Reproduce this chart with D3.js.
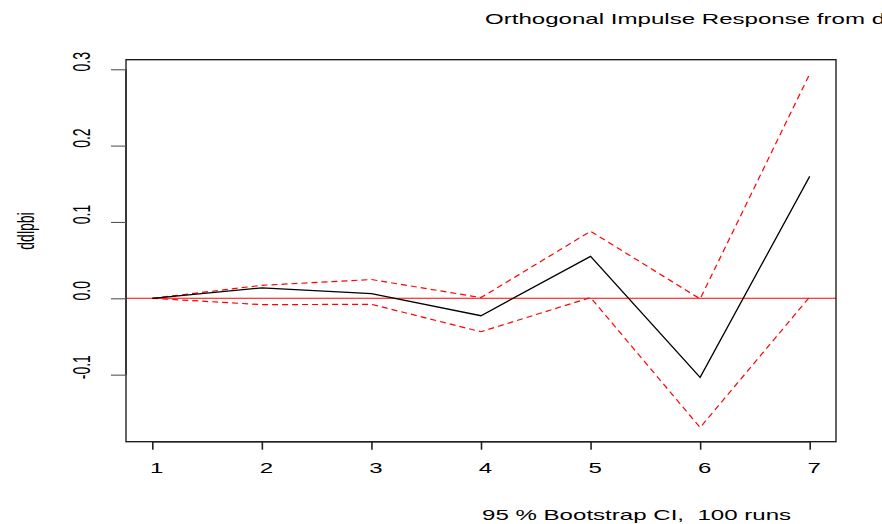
<!DOCTYPE html>
<html>
<head>
<meta charset="utf-8">
<script src="https://cdn.jsdelivr.net/npm/d3@7"></script>
<style>
  html, body { margin: 0; padding: 0; background: #fff; overflow: hidden; }
  svg { display: block; }
  text { font-family: "Liberation Sans", Arial, sans-serif; fill: #000; white-space: pre; }
</style>
</head>
<body>
<svg id="chart" width="882" height="524"></svg>
<script>
// ---- data ----
const periods = [1, 2, 3, 4, 5, 6, 7];
const irf   = [0, 0.0137, 0.0062, -0.0228, 0.0549, -0.1035, 0.1597];
const upper = [0, 0.0170, 0.0246, 0.0009, 0.0878, -0.0008, 0.2940];
const lower = [0, -0.0083, -0.0079, -0.0438, 0.0010, -0.1693, 0.0018];
const yTicks = [-0.1, 0.0, 0.1, 0.2, 0.3];
const yTickLabels = ["-0.1", "0.0", "0.1", "0.2", "0.3"];
const xTickLabels = ["1", "2", "3", "4", "5", "6", "7"];
const titleText = "Orthogonal Impulse Response from ddlpbi";
const yLabel = "ddlpbi";
const subText = "95 % Bootstrap CI,  100 runs";

// ---- layout ----
const SX = 1.72;           // horizontal stretch of the original raster
const box = { left: 126, right: 836, top: 59.7, bottom: 441.7 };
const svg = d3.select("#chart");

// R-style 4% axis extension
const xmin = d3.min(periods), xmax = d3.max(periods);
const xext = (xmax - xmin) * 0.04;
const allY = irf.concat(upper, lower);
const ymin = d3.min(allY), ymax = d3.max(allY);
const yext = (ymax - ymin) * 0.04;

const x = d3.scaleLinear().domain([xmin - xext, xmax + xext]).range([box.left, box.right]);
const y = d3.scaleLinear().domain([ymin - yext, ymax + yext]).range([box.bottom, box.top]);

// ---- zero line ----
svg.append("line")
  .attr("x1", box.left).attr("x2", box.right)
  .attr("y1", y(0)).attr("y2", y(0))
  .attr("stroke", "#ff0000").attr("stroke-width", 1.1);

const line = d3.line().x((d, i) => x(periods[i])).y(d => y(d));

// CI bands
[upper, lower].forEach(s => {
  svg.append("path")
    .attr("d", line(s))
    .attr("fill", "none")
    .attr("stroke", "#ff0000")
    .attr("stroke-width", 1.2)
    .attr("stroke-dasharray", "6,4");
});

// IRF line
svg.append("path")
  .attr("d", line(irf))
  .attr("fill", "none")
  .attr("stroke", "#000")
  .attr("stroke-width", 1.3);

// ---- box ----
svg.append("rect")
  .attr("x", box.left).attr("y", box.top)
  .attr("width", box.right - box.left).attr("height", box.bottom - box.top)
  .attr("fill", "none").attr("stroke", "#111").attr("stroke-width", 1.3);

// ---- x axis ----
const xAxis = d3.axisBottom(x).tickValues(periods).tickSize(8).tickSizeOuter(0)
  .tickFormat((d, i) => xTickLabels[i]);
const gx = svg.append("g").attr("transform", `translate(0,${box.bottom})`).call(xAxis);
gx.select(".domain").attr("d", `M${x(xmin)},0H${x(xmax)}`).attr("stroke", "#222").attr("stroke-width", 1.4);
gx.selectAll(".tick line").attr("stroke", "#222").attr("stroke-width", 1.6);
gx.selectAll(".tick text").remove();
gx.selectAll(".tick").append("text")
  .attr("text-anchor", "middle")
  .attr("font-size", 14)
  .attr("transform", `translate(4,31) scale(${SX},1)`)
  .text((d, i) => xTickLabels[i]);

// ---- y axis ----
const yAxis = d3.axisLeft(y).tickValues(yTicks).tickSize(15).tickSizeOuter(0)
  .tickFormat((d, i) => yTickLabels[i]);
const gy = svg.append("g").attr("transform", `translate(${box.left},0)`).call(yAxis);
gy.select(".domain").attr("stroke", "#222").attr("stroke-width", 1.3)
  .attr("d", `M0,${y(d3.min(yTicks))}V${y(d3.max(yTicks))}`);
gy.selectAll(".tick line").attr("stroke", "#555").attr("stroke-width", 1.1);
gy.selectAll(".tick text").remove();
gy.selectAll(".tick").append("text")
  .attr("text-anchor", "middle")
  .attr("font-size", 14)
  .attr("transform", `translate(-36,-8) scale(${SX},1) rotate(-90)`)
  .text((d, i) => yTickLabels[i]);

// ---- labels ----
svg.append("text")
  .attr("text-anchor", "middle")
  .attr("font-size", 14)
  .attr("transform", `translate(34,231) scale(${SX},1) rotate(-90)`)
  .text(yLabel);

svg.append("text")
  .attr("font-size", 14)
  .attr("transform", `translate(485,24) scale(${SX},1)`)
  .text(titleText);

svg.append("text")
  .attr("font-size", 14)
  .attr("transform", `translate(482,520) scale(${SX},1)`)
  .text(subText);
</script>
</body>
</html>
